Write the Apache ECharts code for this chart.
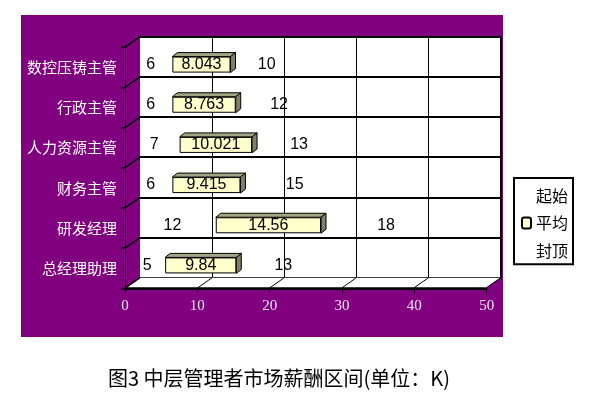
<!DOCTYPE html>
<html><head><meta charset="utf-8">
<script src="https://cdn.jsdelivr.net/npm/echarts@6/dist/echarts.min.js"></script>
<style>html,body{margin:0;padding:0;background:#fff}#c{width:590px;height:408px}</style>
</head><body><div id="c"></div>
<script>
const categories = ['数控压铸主管','行政主管','人力资源主管','财务主管','研发经理','总经理助理'];
const startValues = [6, 6, 7, 6, 12, 5];
const avgValues = [8.043, 8.763, 10.021, 9.415, 14.56, 9.84];
const topValues = [10, 12, 13, 15, 18, 13];
const seriesNames = ['起始', '平均', '封顶'];
const xTicks = [0, 10, 20, 30, 40, 50];
const titleText = '图3 中层管理者市场薪酬区间(单位：K)';

const DX = 15, DY = 10.5;   // wall depth
const BDX = 5, BDY = 4;     // bar depth
const BAR_W = 16;

const chart = echarts.init(document.getElementById('c'), null, {renderer: 'canvas'});

const labelStyle = {show: true, position: 'inside', color: '#000', fontSize: 16, fontFamily: 'Liberation Sans, Arial, sans-serif'};

function renderFrame(params, api) {
  const cs = params.coordSys;
  const yb = cs.y + cs.height;
  const children = [];
  children.push({type: 'polygon', shape: {points: [[cs.x, yb], [cs.x + cs.width, yb], [cs.x + cs.width - DX, yb + DY], [cs.x - DX, yb + DY]]}, style: {fill: '#fff'}});
  xTicks.forEach(function (v) {
    const x = api.coord([v, 0])[0];
    children.push({type: 'line', shape: {x1: x, y1: yb, x2: x - DX, y2: yb + DY}, style: {stroke: '#000', lineWidth: 1}});
  });
  for (let i = 0; i <= categories.length; i++) {
    const y = cs.y + cs.height * i / categories.length;
    children.push({type: 'line', shape: {x1: cs.x, y1: y, x2: cs.x - DX, y2: y + DY}, style: {stroke: '#000', lineWidth: 1.5}});
  }
  children.push({type: 'line', shape: {x1: cs.x - DX, y1: yb + DY, x2: cs.x + cs.width - DX, y2: yb + DY}, style: {stroke: '#000', lineWidth: 2}});
  return {type: 'group', children: children};
}

function renderBar3d(params, api) {
  const s = api.value(0), c = api.value(1), a = api.value(2);
  const p0 = api.coord([s, c]);
  const p1 = api.coord([s + a, c]);
  const yt = p0[1] - BAR_W / 2, ybm = p0[1] + BAR_W / 2;
  return {type: 'group', children: [
    {type: 'polygon', shape: {points: [[p0[0], yt], [p1[0], yt], [p1[0] + BDX, yt - BDY], [p0[0] + BDX, yt - BDY]]}, style: {fill: '#A3A385', stroke: '#000', lineWidth: 1}},
    {type: 'polygon', shape: {points: [[p1[0], yt], [p1[0], ybm], [p1[0] + BDX, ybm - BDY], [p1[0] + BDX, yt - BDY]]}, style: {fill: '#808066', stroke: '#000', lineWidth: 1}}
  ]};
}

const option = {
  animation: false,
  backgroundColor: '#fff',
  title: {text: titleText, left: 103, top: 363, textStyle: {fontSize: 20, fontWeight: 'normal', fontFamily: 'Noto Sans CJK SC', color: '#000'}},
  legend: {
    data: seriesNames, orient: 'vertical', left: 514, top: 178, align: 'left',
    backgroundColor: '#fff', borderColor: '#000', borderWidth: 2, padding: [9, 5, 5, 7],
    itemWidth: 9, itemHeight: 11, itemGap: 10.6, selectedMode: false,
    textStyle: {fontSize: 16, lineHeight: 17, color: '#000', fontFamily: 'Noto Sans CJK SC'}
  },
  grid: [
    {left: 21, top: 15, width: 482, height: 322, show: true, backgroundColor: '#800080', borderWidth: 0},
    {left: 140, top: 36.7, width: 360.7, height: 241, show: true, backgroundColor: '#fff', borderWidth: 0},
    {left: 125, top: 47.2, width: 361.7, height: 241.1, show: false},
    {left: 129, top: 44.5, width: 361.5, height: 241, show: false}
  ],
  xAxis: [
    {gridIndex: 0, type: 'value', show: false},
    {gridIndex: 1, type: 'value', min: 0, max: 50, interval: 10, axisLine: {show: false}, axisTick: {show: false}, axisLabel: {show: false},
      splitLine: {show: true, showMinLine: false, showMaxLine: false, lineStyle: {color: '#000', width: 1}}},
    {gridIndex: 2, type: 'value', min: 0, max: 50, interval: 10,
      axisLine: {show: true, lineStyle: {color: '#000', width: 2}}, axisTick: {show: true, length: 5, lineStyle: {color: '#000', width: 1}},
      axisLabel: {color: '#F2E6F2', fontSize: 15, fontFamily: 'Liberation Serif, serif', margin: 10}, splitLine: {show: false}},
    {gridIndex: 3, type: 'value', min: 0, max: 50, show: false}
  ],
  yAxis: [
    {gridIndex: 0, type: 'value', show: false},
    {gridIndex: 1, type: 'category', data: categories, inverse: true, axisLine: {show: false}, axisTick: {show: false}, axisLabel: {show: false},
      splitLine: {show: true, lineStyle: {color: '#000', width: 2}}},
    {gridIndex: 1, type: 'value', position: 'right', min: 0, max: 1, axisLine: {show: true, lineStyle: {color: '#000', width: 2}}, axisTick: {show: false}, axisLabel: {show: false}, splitLine: {show: false}},
    {gridIndex: 2, type: 'category', data: categories, inverse: true,
      axisLine: {show: true, lineStyle: {color: '#000', width: 1}}, axisTick: {show: true, length: 4, lineStyle: {color: '#000', width: 1.5}},
      axisLabel: {interval: 0, color: '#FFFFFF', fontSize: 15, fontFamily: 'Noto Sans CJK SC', margin: 8}},
    {gridIndex: 3, type: 'category', data: categories, inverse: true, show: false}
  ],
  series: [
    {type: 'custom', name: 'frame', xAxisIndex: 1, yAxisIndex: 1, data: [[0, 0]], renderItem: renderFrame, z: 1, silent: true},
    {type: 'bar', name: seriesNames[0], xAxisIndex: 3, yAxisIndex: 4, stack: 'a', barWidth: BAR_W, data: startValues,
      itemStyle: {color: 'transparent'}, label: labelStyle, z: 4},
    {type: 'bar', name: seriesNames[1], xAxisIndex: 3, yAxisIndex: 4, stack: 'a', barWidth: BAR_W, data: avgValues,
      itemStyle: {color: '#FFFFCC', borderColor: '#000', borderWidth: 1}, label: labelStyle, z: 4},
    {type: 'bar', name: seriesNames[2], xAxisIndex: 3, yAxisIndex: 4, stack: 'a', barWidth: BAR_W, data: topValues,
      itemStyle: {color: 'transparent'}, label: labelStyle, z: 4},
    {type: 'custom', name: 'bar3d', xAxisIndex: 3, yAxisIndex: 4, encode: {x: 0, y: 1},
      data: avgValues.map(function (v, i) { return [startValues[i], i, v]; }), renderItem: renderBar3d, z: 3, silent: true}
  ]
};
chart.setOption(option);
</script></body></html>
